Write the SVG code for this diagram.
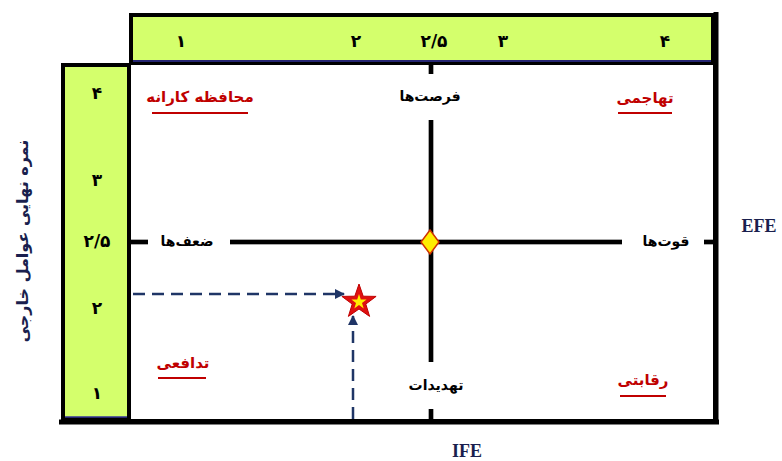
<svg xmlns="http://www.w3.org/2000/svg" width="782" height="461" viewBox="0 0 782 461">
<defs>
<style>
.bar{fill:#d4ff6c;stroke:#000;stroke-width:4}
.tick{font-family:"DejaVu Sans",sans-serif;font-weight:bold;font-size:17px;fill:#000;text-anchor:middle;dominant-baseline:central}
.lbl{font-family:"DejaVu Sans",sans-serif;font-weight:bold;font-size:14px;fill:#000;text-anchor:middle;dominant-baseline:central}
.red{font-family:"DejaVu Sans",sans-serif;font-weight:bold;font-size:15px;fill:#c00000;text-anchor:middle;dominant-baseline:central}
.ul{stroke:#c00000;stroke-width:2}
.axis{stroke:#000;stroke-width:4}
.axisedge{stroke:#aaa;stroke-width:6}
.ax{font-family:"Liberation Serif",serif;font-weight:bold;font-size:18px;fill:#1a1f4e;text-anchor:middle;dominant-baseline:central}
.dash{stroke:#1f3566;stroke-width:2.5;stroke-dasharray:12 7;fill:none}
</style>
<marker id="arr" markerWidth="10" markerHeight="10" refX="9" refY="5" orient="auto" markerUnits="userSpaceOnUse" viewBox="0 0 10 10">
<path d="M0,0 L10,5 L0,10 z" fill="#1f3566"/>
</marker>
</defs>
<rect width="782" height="461" fill="#fff"/>

<g id="frame">
<rect x="130" y="64" width="584" height="356" fill="#fff" stroke="#000" stroke-width="2"/>
<line x1="716" y1="12" x2="716" y2="423" stroke="#000" stroke-width="5"/>
<line x1="59" y1="422" x2="719" y2="422" stroke="#000" stroke-width="5"/>
</g>

<g id="top-scale">
<rect class="bar" x="131" y="15" width="582" height="47"/>
<line x1="133" y1="61" x2="711" y2="61" stroke="#333399" stroke-width="1.5"/>
<text class="tick" x="181" y="41">۱</text>
<text class="tick" x="356" y="41">۲</text>
<text class="tick" x="434" y="41">۲/۵</text>
<text class="tick" x="503" y="41">۳</text>
<text class="tick" x="665" y="41">۴</text>
</g>

<g id="left-scale">
<rect class="bar" x="63" y="65" width="66" height="354"/>
<line x1="65" y1="417" x2="127" y2="417" stroke="#333399" stroke-width="1.5"/>
<text class="tick" x="97" y="93">۴</text>
<text class="tick" x="97" y="180">۳</text>
<text class="tick" x="97" y="241">۲/۵</text>
<text class="tick" x="97" y="308">۲</text>
<text class="tick" x="97" y="393">۱</text>
</g>

<g id="axes">
<line class="axisedge" x1="131" y1="242" x2="148" y2="242"/>
<line class="axis" x1="131" y1="242" x2="148" y2="242"/>
<line class="axisedge" x1="230" y1="242" x2="622" y2="242"/>
<line class="axis" x1="230" y1="242" x2="622" y2="242"/>
<line class="axisedge" x1="704" y1="242" x2="713" y2="242"/>
<line class="axis" x1="704" y1="242" x2="713" y2="242"/>
<line class="axisedge" x1="431" y1="65" x2="431" y2="74"/>
<line class="axis" x1="431" y1="65" x2="431" y2="74"/>
<line class="axisedge" x1="431" y1="120" x2="431" y2="362"/>
<line class="axis" x1="431" y1="120" x2="431" y2="362"/>
<line class="axisedge" x1="431" y1="409" x2="431" y2="419"/>
<line class="axis" x1="431" y1="409" x2="431" y2="419"/>
</g>

<g id="center-diamond">
<polygon points="430,230 439,242 430,254 421,242" fill="#ffee00" stroke="#d03000" stroke-width="1.5"/>
</g>

<g id="q-conservative">
<text class="red" x="200" y="97">محافظه کارانه</text>
<line class="ul" x1="152" y1="113" x2="248" y2="113"/>
</g>
<g id="q-aggressive">
<text class="red" x="645" y="98">تهاجمی</text>
<line class="ul" x1="618" y1="113" x2="672" y2="113"/>
</g>
<g id="q-defensive">
<text class="red" x="183" y="363">تدافعی</text>
<line class="ul" x1="158" y1="378" x2="206" y2="378"/>
</g>
<g id="q-competitive">
<text class="red" x="643" y="380">رقابتی</text>
<line class="ul" x1="620" y1="396" x2="666" y2="396"/>
</g>

<g id="l-opportunities"><text class="lbl" x="430" y="96">فرصت‌ها</text></g>
<g id="l-threats"><text class="lbl" x="436" y="385">تهدیدات</text></g>
<g id="l-weaknesses"><text class="lbl" x="187" y="241">ضعف‌ها</text></g>
<g id="l-strengths"><text class="lbl" x="666" y="241">قوت‌ها</text></g>

<g id="efe"><text class="ax" x="759" y="226">EFE</text></g>
<g id="ife"><text class="ax" x="467" y="451">IFE</text></g>
<g id="y-title"><text class="lbl" font-size="16" style="fill:#1a1f4e;font-size:16px" transform="translate(22,241) rotate(-90)">نمره نهایی عوامل خارجی</text></g>

<g id="connectors">
<line class="dash" x1="133" y1="294" x2="344" y2="294" marker-end="url(#arr)"/>
<line class="dash" x1="353" y1="419" x2="353" y2="316" marker-end="url(#arr)"/>
</g>

<g id="position-star">
<polygon points="359,284 363.2,296.2 376.1,296.4 365.8,304.1 369.6,316.4 359,309 348.4,316.4 352.2,304.1 341.9,296.4 354.8,296.2" fill="#e01010" stroke="#c00000" stroke-width="1"/>
<polygon points="359,294 360.8,299.4 366.6,299.5 362,302.9 363.7,308.4 359,305.1 354.3,308.4 356,302.9 351.4,299.5 357.2,299.4" fill="#ffee00"/>
</g>
</svg>
